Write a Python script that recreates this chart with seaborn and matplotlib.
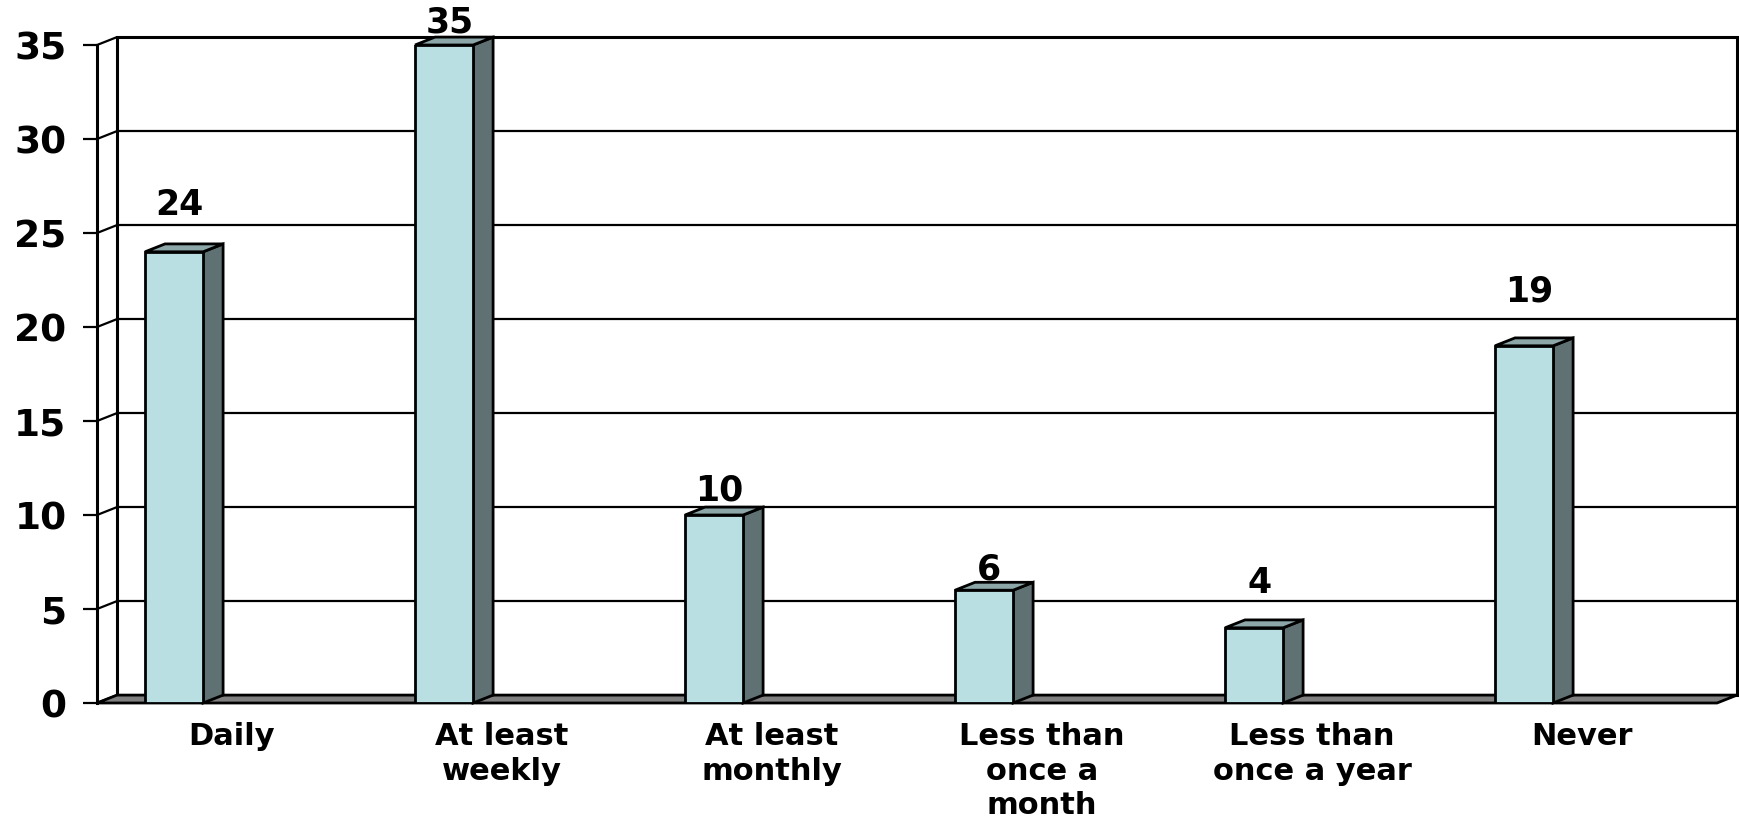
import matplotlib
matplotlib.use("Agg")
import matplotlib.pyplot as plt
from matplotlib.patches import Polygon
import seaborn as sns
import pandas as pd

categories = ["Daily", "At least\nweekly", "At least\nmonthly",
              "Less than\nonce a\nmonth", "Less than\nonce a year", "Never"]
values = [24, 35, 10, 6, 4, 19]
yticks = [0, 5, 10, 15, 20, 25, 30, 35]

FRONT = "#B9DFE2"
SIDE = "#5F7172"
TOP = "#8DA7A9"
FLOOR = "#808080"


def plot(df):
    sns.set_style("white", {"text.color": "black", "xtick.color": "black",
                            "ytick.color": "black"})
    plt.rcParams["font.family"] = ["DejaVu Sans"]

    fig = plt.figure(figsize=(17.4, 8.23), dpi=100)
    ax = fig.add_axes([97 / 1740, 120 / 823, 1620 / 1740, 658 / 823])

    # depth of the fake 3d look, in data units
    dx, dy = 0.074, 0.42
    xa, xb = -0.5, len(df) - 0.5
    ytop = yticks[-1]

    # back wall, grid and floor
    ax.add_patch(Polygon([(xa + dx, dy), (xb + dx, dy), (xb + dx, ytop + dy),
                          (xa + dx, ytop + dy)], closed=True, facecolor="white",
                         edgecolor="black", lw=2.2, clip_on=False, zorder=0))
    for v in yticks[1:-1]:
        ax.plot([xa + dx, xb + dx], [v + dy, v + dy], color="black", lw=1.6,
                clip_on=False, zorder=0.5)
    for v in yticks:
        ax.plot([xa, xa + dx], [v, v + dy], color="black", lw=1.6,
                clip_on=False, zorder=0.5)
    ax.add_patch(Polygon([(xa, 0), (xb, 0), (xb + dx, dy), (xa + dx, dy)],
                         closed=True, facecolor=FLOOR, edgecolor="black",
                         lw=2, clip_on=False, zorder=1))

    # front faces through seaborn
    sns.barplot(data=df, x="cat", y="val", color=FRONT, width=0.215,
                edgecolor="black", linewidth=2, saturation=1, ax=ax)

    shift = -0.2145
    for p in ax.patches[-len(df):]:
        p.set_x(p.get_x() + shift)
        p.set_zorder(3)
        x0 = p.get_x()
        x1 = x0 + p.get_width()
        h = p.get_height()
        # side face
        ax.add_patch(Polygon([(x1, 0), (x1 + dx, dy), (x1 + dx, h + dy), (x1, h)],
                             closed=True, facecolor=SIDE, edgecolor="black",
                             lw=2, clip_on=False, zorder=2.5))
        # top face
        ax.add_patch(Polygon([(x0, h), (x1, h), (x1 + dx, h + dy), (x0 + dx, h + dy)],
                             closed=True, facecolor=TOP, edgecolor="black",
                             lw=2, clip_on=False, zorder=2.5))

    lifts = [2.5, 1.2, 1.3, 1.1, 2.4, 2.9]
    for i, (v, lift) in enumerate(zip(df["val"], lifts)):
        ax.text(i + shift + 0.02, v + lift, str(v), ha="center", va="center",
                fontsize=25, fontweight="bold", zorder=5)

    ax.set_xlim(xa, xb)
    ax.set_ylim(0, ytop)
    ax.set_yticks(yticks)
    ax.set_yticklabels([str(t) for t in yticks], fontsize=27, fontweight="bold")
    ax.set_xticks(range(len(df)))
    ax.set_xticklabels(df["cat"], fontsize=22, fontweight="bold", linespacing=1.23)
    ax.set_xticks([k - 0.5 for k in range(len(df) + 1)], minor=True)
    ax.tick_params(axis="x", which="major", length=0, pad=14)
    ax.tick_params(axis="x", which="minor", length=7, width=2, color="black",
                   direction="out")
    ax.tick_params(axis="y", length=10, width=1.6, color="black", pad=12,
                   direction="out", left=True)
    ax.set_xlabel("")
    ax.set_ylabel("")
    for side in ["top", "right", "bottom"]:
        ax.spines[side].set_visible(False)
    ax.spines["left"].set_linewidth(2.2)
    ax.spines["left"].set_color("black")
    ax.spines["left"].set_zorder(6)
    ax.patch.set_alpha(0)

    fig.savefig("out.png", dpi=100)


if __name__ == "__main__":
    df = pd.DataFrame({"cat": categories, "val": values})
    plot(df)
